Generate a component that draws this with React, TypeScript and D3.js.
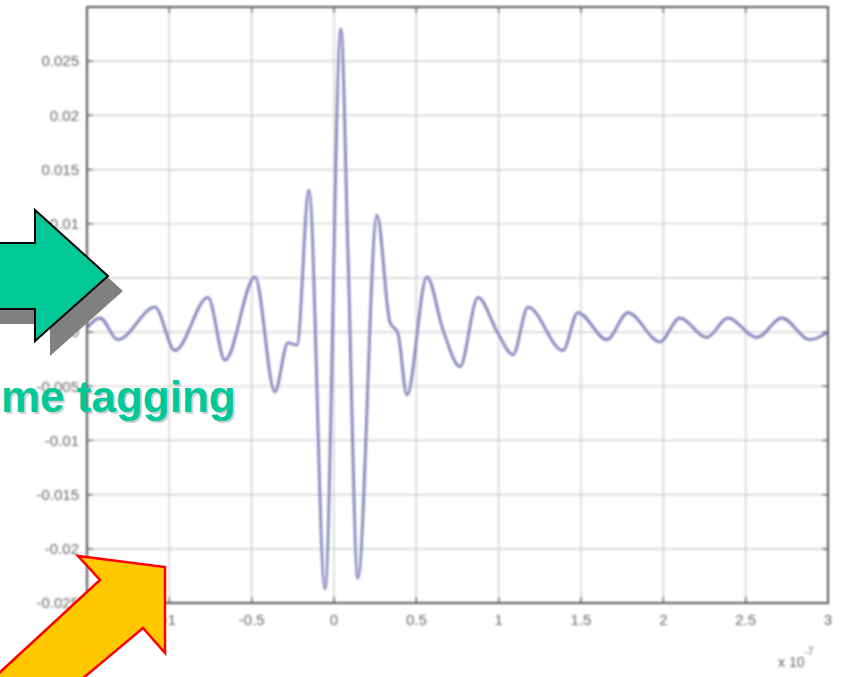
import React, {useEffect, useRef} from 'react';
import * as d3 from 'd3';

// time axis in units of 1e-7 s
const timeValues = [
  -1.5, -1.421, -1.312, -1.087, -0.966, -0.765, -0.662, -0.48, -0.359, -0.28,
  -0.225, -0.152, -0.055, 0.042, 0.085, 0.145, 0.261, 0.34, 0.388, 0.443,
  0.564, 0.662, 0.765, 0.874, 0.995, 1.087, 1.178, 1.39, 1.481, 1.657,
  1.785, 1.979, 2.1, 2.264, 2.392, 2.568, 2.72, 2.89, 3.0,
];

const signalValues = [
  0.0004, 0.0013, -0.0007, 0.0023, -0.0017, 0.0032, -0.0026, 0.0051, -0.0055, -0.001,
  -0.0012, 0.0131, -0.0237, 0.028, 0.0072, -0.0227, 0.0108, 0.0009, -0.0001, -0.0058,
  0.0051, 0.0002, -0.0032, 0.0032, -0.0001, -0.0021, 0.0023, -0.0017, 0.0018, -0.0007,
  0.0018, -0.0009, 0.0013, -0.0005, 0.0013, -0.0005, 0.0013, -0.0007, 0.0,
];

const xTicks = [-1, -0.5, 0, 0.5, 1, 1.5, 2, 2.5, 3];
const xTickLabels = ['-1', '-0.5', '0', '0.5', '1', '1.5', '2', '2.5', '3'];
const yTicks = [0.025, 0.02, 0.015, 0.01, 0.005, 0, -0.005, -0.01, -0.015, -0.02, -0.025];
const yTickLabels = ['0.025', '0.02', '0.015', '0.01', '0.005', '0', '-0.005', '-0.01', '-0.015', '-0.02', '-0.025'];

const xDomain: [number, number] = [-1.5, 3];
const yDomain: [number, number] = [-0.025, 0.03];

const W = 846;
const H = 677;

const App: React.FC = () => {
  const ref = useRef<SVGSVGElement | null>(null);

  useEffect(() => {
    if (!ref.current) return;
    const svg = d3.select(ref.current);
    svg.selectAll('*').remove();

    const left = 87, right = 828, top = 7, bottom = 603;
    const x = d3.scaleLinear().domain(xDomain).range([left, right]);
    const y = d3.scaleLinear().domain(yDomain).range([bottom, top]);

    const defs = svg.append('defs');
    defs
      .append('filter')
      .attr('id', 'soft')
      .attr('x', '-5%')
      .attr('y', '-5%')
      .attr('width', '110%')
      .attr('height', '110%')
      .append('feGaussianBlur')
      .attr('stdDeviation', 1);

    svg.append('rect').attr('width', W).attr('height', H).attr('fill', '#fff');

    const chart = svg.append('g').attr('filter', 'url(#soft)');

    // grid
    const allX = [-1.5, ...xTicks];
    const allY = [0.03, ...yTicks];
    chart
      .append('g')
      .selectAll('line')
      .data(xTicks.slice(0, -1))
      .join('line')
      .attr('x1', (d) => x(d))
      .attr('x2', (d) => x(d))
      .attr('y1', top)
      .attr('y2', bottom)
      .attr('stroke', '#c8c8c8')
      .attr('stroke-width', 1.2);
    chart
      .append('g')
      .selectAll('line')
      .data(yTicks.slice(0, -1))
      .join('line')
      .attr('x1', left)
      .attr('x2', right)
      .attr('y1', (d) => y(d))
      .attr('y2', (d) => y(d))
      .attr('stroke', '#c8c8c8')
      .attr('stroke-width', 1.2);

    // ticks inside the box, on all sides
    const tick = 6;
    const tg = chart.append('g').attr('stroke', '#555').attr('stroke-width', 1.3);
    allX.forEach((d) => {
      tg.append('line').attr('x1', x(d)).attr('x2', x(d)).attr('y1', bottom).attr('y2', bottom - tick);
      tg.append('line').attr('x1', x(d)).attr('x2', x(d)).attr('y1', top).attr('y2', top + tick);
    });
    allY.forEach((d) => {
      tg.append('line').attr('x1', left).attr('x2', left + tick).attr('y1', y(d)).attr('y2', y(d));
      tg.append('line').attr('x1', right).attr('x2', right - tick).attr('y1', y(d)).attr('y2', y(d));
    });

    // signal
    const line = d3
      .line<number>()
      .x((_, i) => x(timeValues[i]))
      .y((d) => y(d))
      .curve(d3.curveMonotoneX);
    chart
      .append('path')
      .datum(signalValues)
      .attr('d', line)
      .attr('fill', 'none')
      .attr('stroke', '#8282bc')
      .attr('stroke-width', 2.8)
      .attr('stroke-linejoin', 'round');

    // box
    chart
      .append('rect')
      .attr('x', left)
      .attr('y', top)
      .attr('width', right - left)
      .attr('height', bottom - top)
      .attr('fill', 'none')
      .attr('stroke', '#555')
      .attr('stroke-width', 2);

    // tick labels
    chart
      .append('g')
      .attr('font-family', 'Liberation Sans, Arial, sans-serif')
      .attr('font-size', 15)
      .attr('fill', '#666')
      .attr('text-anchor', 'end')
      .selectAll('text')
      .data(yTicks)
      .join('text')
      .attr('x', left - 8)
      .attr('y', (d) => y(d))
      .attr('dy', '0.35em')
      .text((_, i) => yTickLabels[i]);
    chart
      .append('g')
      .attr('font-family', 'Liberation Sans, Arial, sans-serif')
      .attr('font-size', 15)
      .attr('fill', '#666')
      .attr('text-anchor', 'middle')
      .selectAll('text')
      .data(xTicks)
      .join('text')
      .attr('x', (d) => x(d))
      .attr('y', bottom + 22)
      .text((_, i) => xTickLabels[i]);
    const ex = chart
      .append('text')
      .attr('font-family', 'Liberation Sans, Arial, sans-serif')
      .attr('font-size', 14)
      .attr('fill', '#666')
      .attr('x', 778)
      .attr('y', 667);
    ex.append('tspan').text('x 10');
    ex.append('tspan').attr('dy', -12).attr('font-size', 10).text('-7');

    // green arrow with shadow
    const greenArrow = (dx: number, dy: number) =>
      [
        [-30, 243],
        [35, 243],
        [35, 210],
        [108, 276],
        [35, 341],
        [35, 309],
        [-30, 309],
      ]
        .map(([a, b]) => `${a + dx},${b + dy}`)
        .join(' ');
    svg.append('polygon').attr('points', greenArrow(15, 15)).attr('fill', '#808080');
    svg
      .append('polygon')
      .attr('points', greenArrow(0, 0))
      .attr('fill', '#00c896')
      .attr('stroke', '#000')
      .attr('stroke-width', 2);

    // label
    const lbl = (dx: number, dy: number, fill: string) =>
      svg
        .append('text')
        .attr('x', 1 + dx)
        .attr('y', 412 + dy)
        .attr('font-family', 'Liberation Sans, Arial, sans-serif')
        .attr('font-weight', 'bold')
        .attr('font-size', 44)
        .attr('fill', fill)
        .text('me tagging');
    lbl(2, 2, 'rgba(120,120,120,0.35)');
    lbl(0, 0, '#00c896');

    // yellow arrow
    svg
      .append('polygon')
      .attr(
        'points',
        [
          [165, 567],
          [165, 653],
          [143, 628],
          [33, 720],
          [-30, 700],
          [100, 580],
          [78, 556],
        ]
          .map((p) => p.join(','))
          .join(' ')
      )
      .attr('fill', '#ffc800')
      .attr('stroke', '#ff0000')
      .attr('stroke-width', 2.5)
      .attr('stroke-linejoin', 'miter');
  }, []);

  return (
    <svg
      ref={ref}
      width={W}
      height={H}
      style={{position: 'absolute', left: 0, top: 0, display: 'block'}}
    ></svg>
  );
};

export default App;
